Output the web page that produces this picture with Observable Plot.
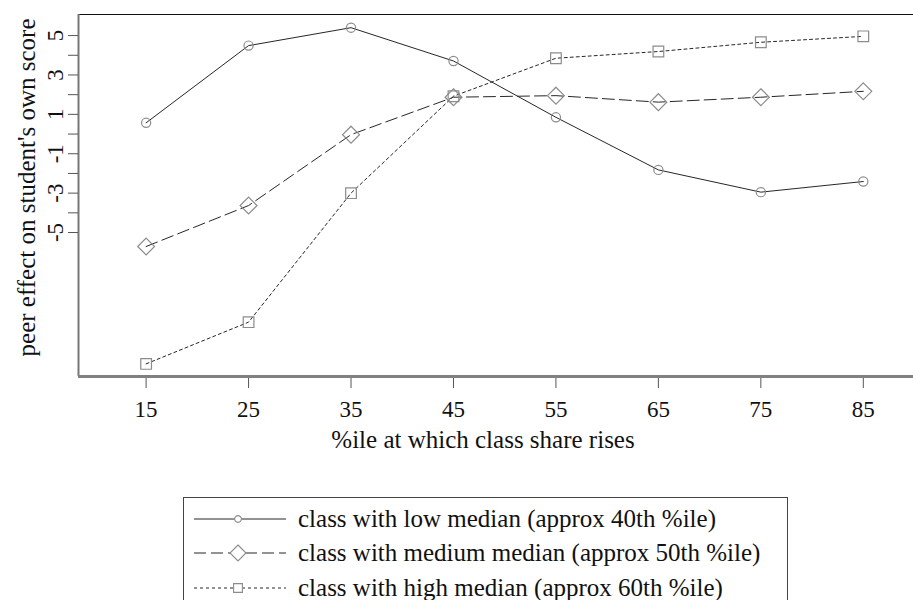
<!DOCTYPE html>
<html>
<head>
<meta charset="utf-8">
<script src="https://cdn.jsdelivr.net/npm/d3@7"></script>
<script src="https://cdn.jsdelivr.net/npm/@observablehq/plot@0.6"></script>
<style>
  html, body { margin: 0; padding: 0; background: #fff; overflow: hidden; width: 913px; height: 600px; }
  #wrap { position: relative; width: 913px; height: 600px; font-family: "Liberation Serif", "Times New Roman", serif; }
  #legend { position: absolute; left: 183px; top: 497px; width: 605px; height: 130px; border: 1px solid #444; box-sizing: border-box; }
  .row { position: absolute; left: 0; height: 34px; width: 100%; }
  .row svg { position: absolute; left: 9px; top: 0; }
  .row span { position: absolute; left: 114px; top: 0; line-height: 34px; font-size: 25px; color: #111; white-space: nowrap; }
</style>
</head>
<body>
<div id="wrap">
  <div id="chart"></div>
  <div id="legend"></div>
</div>
<script>
// ---- data ----
const percentiles = [15, 25, 35, 45, 55, 65, 75, 85];
const lowMedian    = [0.57, 4.49, 5.40, 3.71, 0.85, -1.82, -2.95, -2.41];
const mediumMedian = [-5.71, -3.63, -0.03, 1.87, 1.95, 1.62, 1.87, 2.17];
const highMedian   = [-11.67, -9.55, -3.00, 1.92, 3.85, 4.19, 4.66, 4.96];
const seriesNames = [
  "class with low median (approx 40th %ile)",
  "class with medium median (approx 50th %ile)",
  "class with high median (approx 60th %ile)"
];
const xTicks = [15, 25, 35, 45, 55, 65, 75, 85];
const yTicks = [-5, -4, -3, -2, -1, 0, 1, 2, 3, 4, 5];
const yTickLabels = [-5, -3, -1, 1, 3, 5];
const xTitle = "%ile at which class share rises";
const yTitle = "peer effect on student's own score";
const xDomain = [8.4, 89.9];
const yDomain = [-12.31, 6.07];

// ---- styles per series ----
const styles = [
  {dash: null, symbol: "circle", r: 4.6, lr: 3.4},
  {dash: "12,5", symbol: "diamond2", r: 7.6, lr: 7.2},
  {dash: "3,3", symbol: "square2", r: 6.8, lr: 5.6}
];
const allSeries = [lowMedian, mediumMedian, highMedian];
const tables = allSeries.map((vals, i) => percentiles.map((p, j) => ({x: p, y: vals[j], series: seriesNames[i]})));

const lineColor = "#262626";
const markColor = "#8c8c8c";
const font = "'Liberation Serif', 'Times New Roman', serif";

const marks = [
  Plot.ruleY([yDomain[1]], {stroke: "#111", strokeWidth: 1.2}),
  Plot.ruleX([xDomain[0]], {stroke: "#777", strokeWidth: 2}),
  Plot.axisX({ticks: xTicks, tickSize: 12, tickPadding: 12, label: null, stroke: "#555", fontSize: 23, fontFamily: font, tickFormat: d => String(d)}),
  Plot.axisY({ticks: yTicks, tickSize: 10, tickPadding: 6, tickRotate: -90, label: null, stroke: "#555", fontSize: 23, fontFamily: font,
              tickFormat: d => yTickLabels.includes(d) ? String(d) : ""}),
  Plot.text([xTitle], {frameAnchor: "bottom", textAnchor: "middle", lineAnchor: "middle", dy: 63, dx: -13, fontSize: 25, fontFamily: font, fill: "#111"}),
  Plot.text([yTitle], {frameAnchor: "left", textAnchor: "middle", lineAnchor: "middle", rotate: -90, dx: -52, dy: -8, fontSize: 25, fontFamily: font, fill: "#111"})
];
tables.forEach((t, i) => {
  const s = styles[i];
  const lo = {x: "x", y: "y", stroke: lineColor, strokeWidth: 1};
  if (s.dash) lo.strokeDasharray = s.dash;
  marks.push(Plot.line(t, lo));
});
tables.forEach((t, i) => {
  const s = styles[i];
  marks.push(Plot.dot(t, {x: "x", y: "y", symbol: s.symbol, r: s.r, stroke: markColor, fill: "none", strokeWidth: 1.2}));
});
marks.push(Plot.ruleY([yDomain[0]], {stroke: "#808080", strokeWidth: 3}));

const chart = Plot.plot({
  width: 913,
  height: 470,
  marginLeft: 78,
  marginRight: 0,
  marginTop: 14,
  marginBottom: 94,
  x: {domain: xDomain},
  y: {domain: yDomain},
  style: {fontFamily: font, fontSize: "23px", color: "#111", background: "#fff", overflow: "visible"},
  marks
});
document.getElementById("chart").appendChild(chart);

// ---- legend ----
const legend = d3.select("#legend");
const rowCenters = [21, 55, 90];
seriesNames.forEach((name, i) => {
  const s = styles[i];
  const row = legend.append("div").attr("class", "row").style("top", (rowCenters[i] - 17) + "px");
  const svg = row.append("svg").attr("width", 96).attr("height", 34);
  const ln = svg.append("line").attr("x1", 1).attr("x2", 93).attr("y1", 17).attr("y2", 17)
    .attr("stroke", lineColor).attr("stroke-width", 1);
  if (s.dash) ln.attr("stroke-dasharray", s.dash);
  const symType = s.symbol === "circle" ? d3.symbolCircle : s.symbol === "diamond2" ? d3.symbolDiamond2 : d3.symbolSquare2;
  svg.append("path").attr("transform", "translate(45,17)")
    .attr("d", d3.symbol(symType, Math.PI * s.lr * s.lr)())
    .attr("fill", "#fff").attr("stroke", markColor).attr("stroke-width", 1.1);
  row.append("span").text(name);
});
</script>
</body>
</html>
